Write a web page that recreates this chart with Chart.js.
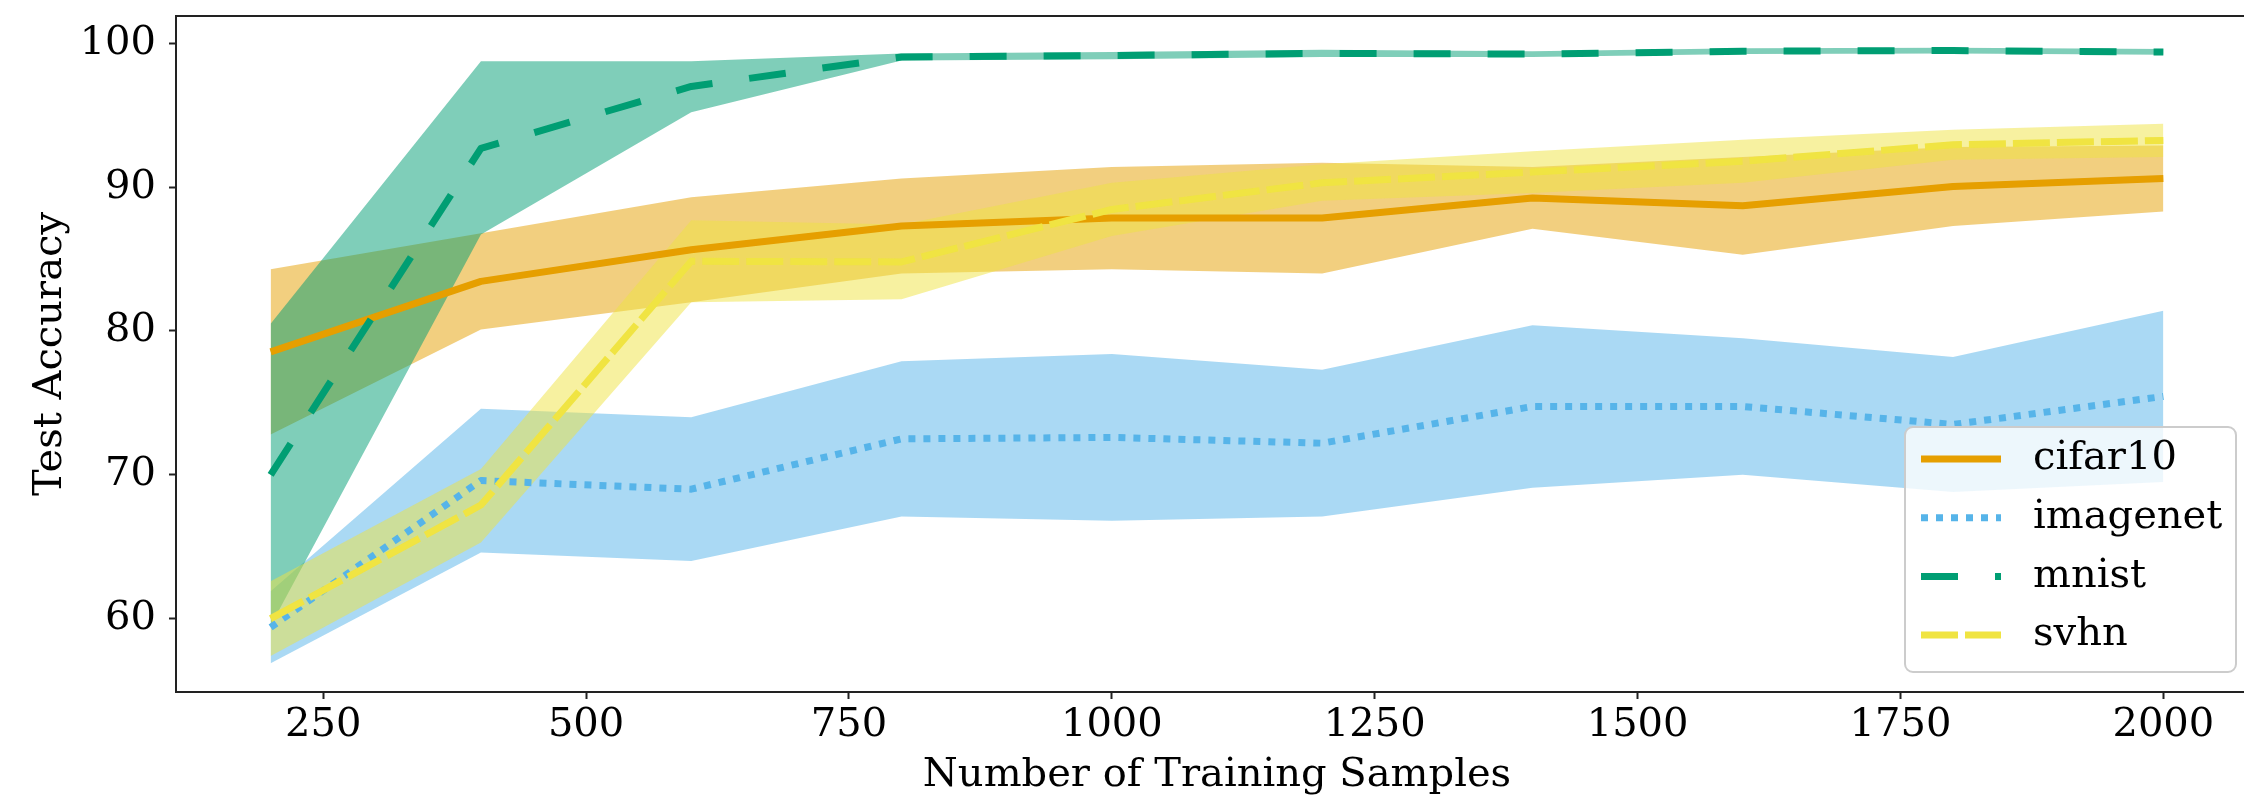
<!DOCTYPE html>
<html>
<head>
<meta charset="utf-8">
<title>Test accuracy vs. number of training samples</title>
<script src="https://cdn.jsdelivr.net/npm/chart.js@4.4.1/dist/chart.umd.min.js"></script>
<style>
  html, body { margin: 0; padding: 0; background: #fff; overflow: hidden; }
  canvas { display: block; }
</style>
</head>
<body>
<canvas id="acc-chart" width="2262" height="796"></canvas>
<script>
// training set sizes (x positions of every run)
const SAMPLES = [200, 400, 600, 800, 1000, 1200, 1400, 1600, 1800, 2000];

const X_TICKS = [250, 500, 750, 1000, 1250, 1500, 1750, 2000];
const Y_TICKS = [60, 70, 80, 90, 100];

// mean accuracy and the shaded band (upper / lower) per dataset
const CIFAR10_MEAN  = [78.55, 83.45, 85.65, 87.3, 87.85, 87.85, 89.25, 88.7, 90.05, 90.6];
const CIFAR10_UPPER = [84.3, 86.8, 89.3, 90.6, 91.4, 91.7, 91.4, 92.1, 92.8, 92.9];
const CIFAR10_LOWER = [72.8, 80.1, 82.0, 84.0, 84.3, 84.0, 87.1, 85.3, 87.3, 88.3];

const IMAGENET_MEAN  = [59.4, 69.6, 69.0, 72.5, 72.6, 72.2, 74.75, 74.75, 73.5, 75.45];
const IMAGENET_UPPER = [61.9, 74.6, 74.0, 77.9, 78.4, 77.3, 80.4, 79.5, 78.2, 81.4];
const IMAGENET_LOWER = [56.9, 64.6, 64.0, 67.1, 66.8, 67.1, 69.1, 70.0, 68.8, 69.5];

const MNIST_MEAN  = [70.0, 92.7, 97.0, 99.05, 99.15, 99.3, 99.25, 99.45, 99.5, 99.4];
const MNIST_UPPER = [80.5, 98.75, 98.75, 99.3, 99.4, 99.55, 99.45, 99.65, 99.7, 99.6];
const MNIST_LOWER = [59.5, 86.7, 95.2, 98.8, 98.9, 99.05, 99.05, 99.25, 99.3, 99.2];

const SVHN_MEAN  = [60.0, 67.9, 84.85, 84.8, 88.45, 90.3, 91.05, 91.8, 92.95, 93.25];
const SVHN_UPPER = [62.6, 70.4, 87.7, 87.4, 90.3, 91.6, 92.5, 93.3, 94.0, 94.4];
const SVHN_LOWER = [57.4, 65.3, 82.0, 82.2, 86.6, 89.05, 89.6, 90.3, 91.9, 92.1];

const FONT = "'DejaVu Serif', serif";
const FONT_SIZE = 40;
const LINE_WIDTH = 7;
const AXIS_COLOR = "#222";

const SERIES = [
  { name: "cifar10",  color: "#E69F00", dash: [],       mean: CIFAR10_MEAN,  upper: CIFAR10_UPPER,  lower: CIFAR10_LOWER },
  { name: "imagenet", color: "#56B4E9", dash: [7, 8],   mean: IMAGENET_MEAN, upper: IMAGENET_UPPER, lower: IMAGENET_LOWER },
  { name: "mnist",    color: "#009E73", dash: [37, 37], mean: MNIST_MEAN,    upper: MNIST_UPPER,    lower: MNIST_LOWER },
  { name: "svhn",     color: "#F0E442", dash: [37, 7],  mean: SVHN_MEAN,     upper: SVHN_UPPER,     lower: SVHN_LOWER },
];

function withAlpha(hex, a) {
  const n = parseInt(hex.slice(1), 16);
  return `rgba(${(n >> 16) & 255}, ${(n >> 8) & 255}, ${n & 255}, ${a})`;
}

const points = (vals) => SAMPLES.map((x, i) => ({ x, y: vals[i] }));

// bands first (lower + upper filled to lower), then the mean lines on top
const datasets = [];
SERIES.forEach((s, k) => {
  const lowerIdx = datasets.length;
  datasets.push({
    label: s.name + "_lower",
    data: points(s.lower),
    borderColor: "rgba(0,0,0,0)",
    backgroundColor: "rgba(0,0,0,0)",
    pointRadius: 0,
    fill: false,
    order: 20 - k,
  });
  datasets.push({
    label: s.name + "_upper",
    data: points(s.upper),
    borderColor: "rgba(0,0,0,0)",
    backgroundColor: withAlpha(s.color, 0.5),
    pointRadius: 0,
    fill: lowerIdx,
    order: 20 - k,
  });
});
SERIES.forEach((s, k) => {
  datasets.push({
    label: s.name,
    data: points(s.mean),
    borderColor: s.color,
    borderWidth: LINE_WIDTH,
    borderDash: s.dash,
    borderCapStyle: "butt",
    borderJoinStyle: "round",
    pointRadius: 0,
    fill: false,
    order: 10 - k,
  });
});

// axes box drawn over the data, like a plain matplotlib frame
const framePlugin = {
  id: "frame",
  afterDatasetsDraw(chart) {
    const { ctx, chartArea: a } = chart;
    ctx.save();
    ctx.strokeStyle = AXIS_COLOR;
    ctx.lineWidth = 2;
    ctx.strokeRect(a.left, a.top, a.right - a.left, a.bottom - a.top);
    ctx.restore();
  },
};

// legend box in the lower right corner of the plot
const legendPlugin = {
  id: "cornerLegend",
  afterDraw(chart) {
    const { ctx, chartArea: a } = chart;
    const x0 = a.right - 353;
    const y0 = a.bottom - 265;
    const w = 331;
    const h = 245;
    ctx.save();
    ctx.beginPath();
    ctx.roundRect(x0, y0, w, h, 8);
    ctx.fillStyle = "rgba(255,255,255,0.8)";
    ctx.fill();
    ctx.strokeStyle = "#cccccc";
    ctx.lineWidth = 2;
    ctx.stroke();

    ctx.font = `${FONT_SIZE}px ${FONT}`;
    ctx.textBaseline = "middle";
    ctx.textAlign = "left";
    SERIES.forEach((s, i) => {
      const y = y0 + 32 + i * 58.7;
      ctx.beginPath();
      ctx.setLineDash(s.dash);
      ctx.lineCap = "butt";
      ctx.strokeStyle = s.color;
      ctx.lineWidth = LINE_WIDTH;
      ctx.moveTo(x0 + 16, y);
      ctx.lineTo(x0 + 96, y);
      ctx.stroke();
      ctx.setLineDash([]);
      ctx.fillStyle = "#000";
      ctx.fillText(s.name, x0 + 128, y);
    });
    ctx.restore();
  },
};

const tickFont = { family: FONT, size: FONT_SIZE };

new Chart(document.getElementById("acc-chart"), {
  type: "line",
  data: { datasets },
  plugins: [framePlugin, legendPlugin],
  options: {
    responsive: false,
    animation: false,
    devicePixelRatio: 1,
    layout: { padding: { top: 16, right: 4, bottom: 0, left: 0 } },
    plugins: {
      legend: { display: false },
      tooltip: { enabled: false },
      filler: { drawTime: "beforeDatasetsDraw" },
    },
    scales: {
      x: {
        type: "linear",
        min: 110,
        max: 2090,
        afterBuildTicks: (axis) => {
          axis.ticks = X_TICKS.map((v) => ({ value: v }));
        },
        afterFit: (axis) => {
          axis.height = 104;
          axis.paddingLeft = 0;
          axis.paddingRight = 0;
        },
        border: { display: false },
        grid: {
          display: true,
          drawOnChartArea: false,
          drawTicks: true,
          tickLength: 7,
          tickWidth: 2,
          color: AXIS_COLOR,
        },
        ticks: {
          color: "#000",
          font: tickFont,
          padding: 3,
          maxRotation: 0,
          autoSkip: false,
          callback: (value) => String(value),
        },
        title: {
          display: true,
          text: "Number of Training Samples",
          color: "#000",
          font: { family: FONT, size: FONT_SIZE, lineHeight: 1.0 },
          padding: { top: 0, bottom: 0 },
        },
      },
      y: {
        type: "linear",
        min: 54.9,
        max: 101.9,
        afterBuildTicks: (axis) => {
          axis.ticks = Y_TICKS.map((v) => ({ value: v }));
        },
        afterFit: (axis) => {
          axis.width = 176;
          axis.paddingTop = 0;
          axis.paddingBottom = 0;
        },
        border: { display: false },
        grid: {
          display: true,
          drawOnChartArea: false,
          drawTicks: true,
          tickLength: 7,
          tickWidth: 2,
          color: AXIS_COLOR,
        },
        ticks: {
          color: "#000",
          font: tickFont,
          padding: 13,
          callback: (value) => String(value),
        },
        title: {
          display: true,
          text: "Test Accuracy",
          color: "#000",
          font: { family: FONT, size: FONT_SIZE },
          padding: { top: 27, bottom: 0 },
        },
      },
    },
  },
});
</script>
</body>
</html>
